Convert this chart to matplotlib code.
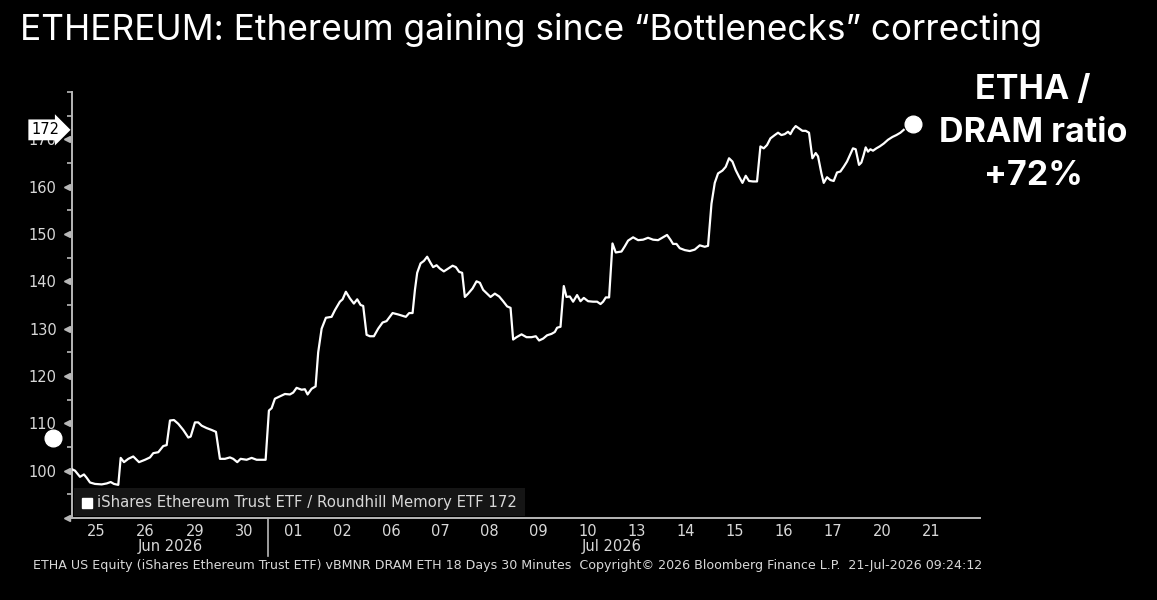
import matplotlib
matplotlib.use('Agg')
import matplotlib.pyplot as plt
import matplotlib.transforms as mtransforms
from matplotlib.patches import Rectangle
import numpy as np

# 数据：横轴为交易日（从 6月25日开盘起算，单位=天），纵轴为 ETHA/DRAM 比值（起点=100）
day_pos = [
    0.00, 0.061, 0.163, 0.244, 0.299, 0.367, 0.468, 0.605, 0.707, 0.788, 0.855, 0.943,
    0.992, 1.059, 1.147, 1.248, 1.365, 1.487, 1.589, 1.656, 1.758, 1.859, 1.929,
    1.996, 2.077, 2.165, 2.267, 2.369, 2.418, 2.505, 2.572, 2.642, 2.743, 2.845, 2.933,
    3.014, 3.116, 3.218, 3.285, 3.367, 3.436, 3.558, 3.660, 3.762, 3.864, 3.945,
    4.012, 4.067, 4.134, 4.236, 4.338, 4.440, 4.507, 4.576, 4.678, 4.745, 4.800, 4.882, 4.963,
    5.016, 5.086, 5.173, 5.289, 5.356, 5.458, 5.513, 5.580, 5.662, 5.743, 5.811, 5.880, 5.933,
    6.002, 6.069, 6.151, 6.238, 6.328, 6.409, 6.532, 6.646, 6.802, 6.870, 6.939,
    6.986, 7.033, 7.102, 7.169, 7.236, 7.305, 7.358, 7.428, 7.495, 7.576, 7.664, 7.754, 7.821, 7.888, 7.949,
    8.004, 8.071, 8.161, 8.242, 8.310, 8.377, 8.458, 8.527, 8.615, 8.703, 8.784, 8.866, 8.935,
    8.988, 9.057, 9.159, 9.261, 9.363, 9.450, 9.517, 9.599, 9.680, 9.770, 9.837, 9.884, 9.953,
    10.020, 10.075, 10.143, 10.210, 10.291, 10.360, 10.428, 10.515, 10.617, 10.699, 10.768, 10.821, 10.876, 10.943,
    11.012, 11.079, 11.196, 11.263, 11.330, 11.432, 11.534, 11.635, 11.737, 11.839, 11.941,
    12.043, 12.124, 12.193, 12.246, 12.316, 12.383, 12.485, 12.587, 12.688, 12.790, 12.892, 12.959,
    13.029, 13.096, 13.163, 13.253, 13.320, 13.387, 13.456, 13.523, 13.591, 13.660, 13.727, 13.794, 13.876, 13.957,
    14.026, 14.094, 14.161, 14.230, 14.318, 14.385, 14.454, 14.521, 14.589, 14.637, 14.690, 14.745, 14.813, 14.882, 14.949,
    15.016, 15.085, 15.153, 15.200, 15.269, 15.316, 15.383, 15.452, 15.519, 15.587, 15.656, 15.723, 15.790, 15.859, 15.912, 15.967,
    16.035, 16.083, 16.130, 16.171, 16.218, 16.267, 16.320, 16.389, 16.456, 16.538, 16.625, 16.715, 16.796, 16.878, 16.945,
]
ratio = [
    100.3, 100.0, 98.7, 99.2, 98.5, 97.5, 97.2, 97.1, 97.3, 97.6, 97.2, 97.0,
    102.7, 101.8, 102.5, 103.0, 101.8, 102.3, 102.8, 103.7, 103.9, 105.2, 105.4,
    110.6, 110.7, 109.9, 108.6, 107.0, 107.2, 110.2, 110.2, 109.5, 109.0, 108.6, 108.2,
    102.5, 102.5, 102.8, 102.5, 101.8, 102.5, 102.3, 102.7, 102.3, 102.3, 102.3,
    112.7, 113.2, 115.2, 115.7, 116.2, 116.1, 116.5, 117.5, 117.1, 117.2, 116.1, 117.3, 117.8,
    125.0, 130.0, 132.3, 132.5, 133.9, 135.7, 136.2, 137.8, 136.4, 135.3, 136.2, 135.0, 134.8,
    128.7, 128.4, 128.4, 130.0, 131.3, 131.6, 133.3, 133.0, 132.5, 133.3, 133.3,
    138.1, 141.8, 143.8, 144.3, 145.2, 143.9, 143.0, 143.4, 142.7, 142.1, 142.7, 143.3, 143.0, 142.0, 141.8,
    136.7, 137.4, 138.5, 140.0, 139.7, 138.2, 137.4, 136.7, 137.4, 136.8, 135.8, 134.7, 134.4,
    127.7, 128.2, 128.8, 128.2, 128.2, 128.4, 127.5, 127.9, 128.6, 128.9, 129.3, 130.2, 130.4,
    139.0, 136.7, 136.8, 135.7, 137.1, 135.8, 136.5, 135.8, 135.7, 135.7, 135.2, 135.7, 136.6, 136.6,
    148.0, 146.1, 146.3, 147.4, 148.6, 149.3, 148.7, 148.8, 149.2, 148.8, 148.7,
    149.3, 149.8, 148.8, 147.9, 147.9, 147.0, 146.6, 146.4, 146.7, 147.6, 147.3, 147.5,
    156.4, 160.8, 162.8, 163.4, 164.2, 166.0, 165.3, 163.5, 162.1, 160.8, 162.3, 161.2, 161.1, 161.1,
    168.5, 168.1, 168.8, 170.2, 170.9, 171.4, 170.9, 171.1, 171.6, 171.1, 172.1, 172.8, 172.3, 171.8, 171.8,
    171.4, 166.0, 167.1, 166.4, 162.8, 160.8, 162.0, 161.4, 161.2, 163.0, 163.2, 164.2, 165.3, 166.9, 168.1, 167.9,
    164.6, 165.1, 166.7, 168.3, 167.4, 167.9, 167.6, 168.1, 168.5, 169.1, 169.9, 170.5, 170.9, 171.4, 172.0,
]

day_labels = ['25', '26', '29', '30', '01', '02', '06', '07', '08', '09',
              '10', '13', '14', '15', '16', '17', '20', '21']
month_labels = ['Jun 2026', 'Jul 2026']
month_centers = [2.0, 11.0]
month_break = 4.0
start_marker = 107
last_value = 172

title = 'ETHEREUM: Ethereum gaining since \u201cBottlenecks\u201d correcting'
callout = 'ETHA /\nDRAM ratio\n+72%'
legend_text = 'iShares Ethereum Trust ETF / Roundhill Memory ETF 172'
footer = ('ETHA US Equity (iShares Ethereum Trust ETF) vBMNR DRAM ETH 18 Days 30 Minutes  '
          'Copyright\u00a9 2026 Bloomberg Finance L.P.  21-Jul-2026 09:24:12')

grey = '#d8d8d8'
axis_grey = '#b8b8b8'

fig = plt.figure(figsize=(11.57, 6.0), dpi=100, facecolor='black')
ax = fig.add_axes([72 / 1157, 82 / 600, 908 / 1157, 426 / 600])
ax.set_facecolor('black')

# 主线
ax.plot(day_pos, ratio, color='white', linewidth=1.6, solid_joinstyle='round', zorder=3)

ax.set_xlim(0, 18.5)
ax.set_ylim(90, 180)

# 坐标轴样式
for side in ['top', 'right']:
    ax.spines[side].set_visible(False)
ax.spines['left'].set_color(axis_grey)
ax.spines['left'].set_linewidth(1.4)
ax.spines['bottom'].set_color(axis_grey)
ax.spines['bottom'].set_linewidth(1.4)

ax.set_yticks(np.arange(100, 171, 10))
ax.set_yticks(np.arange(90, 181, 5), minor=True)
ax.tick_params(axis='y', which='major', length=0, pad=11, labelcolor=grey, labelsize=10.5)
ax.tick_params(axis='y', which='minor', length=3.5, width=1.2, color=axis_grey)

ax.set_xticks(np.arange(len(day_labels)) + 0.5)
ax.set_xticklabels(day_labels)
ax.tick_params(axis='x', length=0, pad=4, labelcolor=grey, labelsize=10.5)

# 主刻度的小三角
yx = mtransforms.blended_transform_factory(ax.transAxes, ax.transData)
xy = mtransforms.blended_transform_factory(ax.transData, ax.transAxes)
ax.plot(np.full(9, -0.0055), np.arange(90, 171, 10), linestyle='none', marker='<',
        markersize=5, color=axis_grey, transform=yx, clip_on=False)

# 月份标签与分隔线
for lab, c in zip(month_labels, month_centers):
    ax.text(c, -0.068, lab, transform=xy, ha='center', va='center', color=grey, fontsize=10.5)
ax.plot([month_break, month_break], [0, -0.09], transform=xy, color=axis_grey,
        linewidth=1.2, clip_on=False)

# 图例框
ax.add_patch(Rectangle((0.002, 0.004), 0.497, 0.066, transform=ax.transAxes,
                       facecolor='#151515', edgecolor='none', zorder=4))
ax.plot([0.017], [0.036], transform=ax.transAxes, marker='s', markersize=7,
        color='white', linestyle='none', zorder=5)
ax.text(0.027, 0.036, legend_text, transform=ax.transAxes, ha='left', va='center',
        color=grey, fontsize=10.7, zorder=5)

# 最新值标签
ax.text(-0.014, last_value, str(last_value), transform=yx, ha='right', va='center',
        color='black', fontsize=10.5,
        bbox=dict(boxstyle='rarrow,pad=0.2', facecolor='white', edgecolor='none'))

# 起点与终点白点
ax.plot([-0.021], [start_marker], transform=yx, marker='o', markersize=12,
        color='white', clip_on=False, zorder=5)
ax.plot([day_pos[-1] + 0.18], [ratio[-1] + 1.2], marker='o', markersize=12,
        color='white', clip_on=False, zorder=5)

# 标题、注释、页脚
fig.text(20 / 1157, 1 - 30 / 600, title, color='white', fontsize=25.4,
         family='Inter', ha='left', va='center')
fig.text(1033 / 1157, 1 - 133 / 600, callout, color='white', fontsize=24.5,
         fontweight='bold', family='Inter', ha='center', va='center',
         linespacing=1.45)
fig.text(33 / 1157, 1 - 566 / 600, footer, color=grey, fontsize=9.1,
         ha='left', va='center')

fig.savefig('out.png', dpi=100, facecolor='black')
